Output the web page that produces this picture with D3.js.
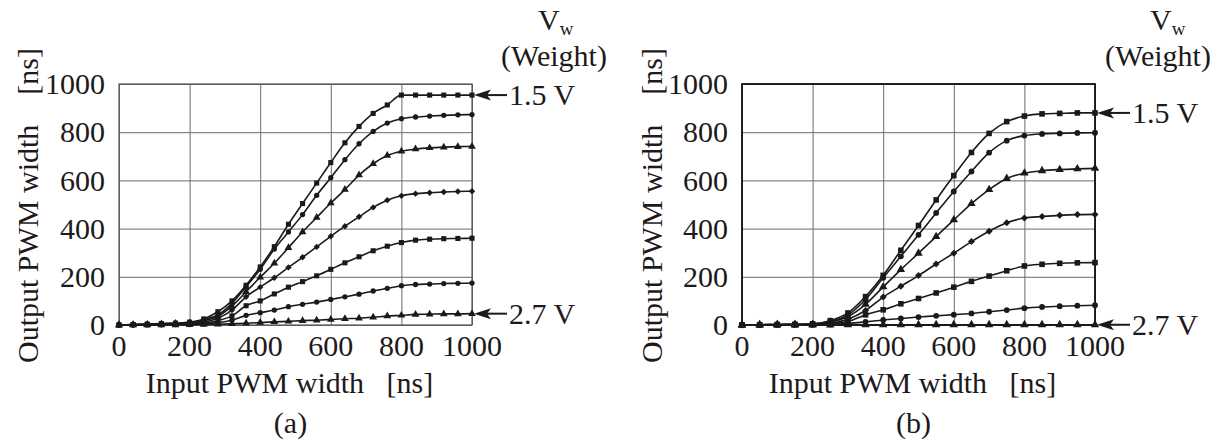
<!DOCTYPE html>
<html>
<head>
<meta charset="utf-8">
<script src="https://cdn.jsdelivr.net/npm/d3@7"></script>
<style>
  html, body { margin: 0; padding: 0; background: #fff; }
  svg { display: block; }
  text { font-family: "Liberation Serif", Tinos, "Times New Roman", Times, serif; fill: #1e1a1b; white-space: pre; }
</style>
</head>
<body>
<svg id="chart" width="1224" height="448"></svg>
<script>
// input PWM width [ns] for each panel
const inputA = [0, 40, 80, 120, 160, 200, 240, 280, 320, 360, 400, 440, 480, 520, 560, 600, 640, 680, 720, 760, 800, 840, 880, 920, 960, 1000];
const inputB = [0, 50, 100, 150, 200, 250, 300, 350, 400, 450, 500, 550, 600, 650, 700, 750, 800, 850, 900, 950, 1000];

// weight voltages (top curve to bottom curve)
const weights = ['1.5 V', '1.7 V', '1.9 V', '2.1 V', '2.3 V', '2.5 V', '2.7 V'];
const markers = ['square', 'circle', 'triangle', 'diamond', 'square', 'circle', 'triangle'];

// output PWM width [ns], panel (a)
const a15 = [0, 2, 4, 6, 8, 12, 25, 55, 100, 165, 241, 325, 418, 504, 589, 674, 756, 824, 878, 913, 954, 954, 954, 954, 954, 954];
const a17 = [0, 2, 3, 5, 7, 10, 22, 42, 90, 159, 231, 315, 386, 458, 538, 611, 686, 752, 803, 838, 856, 863, 867, 870, 872, 873];
const a19 = [0, 1, 2, 4, 6, 8, 18, 36, 78, 138, 198, 256, 321, 386, 446, 506, 562, 622, 669, 703, 721, 730, 735, 738, 740, 741];
const a21 = [0, 1, 2, 3, 4, 6, 12, 28, 62, 117, 157, 196, 239, 281, 324, 368, 410, 449, 488, 518, 536, 545, 549, 552, 554, 555];
const a23 = [0, 1, 1, 2, 3, 4, 8, 18, 38, 80, 100, 129, 157, 180, 204, 231, 258, 283, 308, 327, 342, 352, 356, 358, 359, 360];
const a25 = [0, 0, 1, 1, 2, 2, 5, 10, 20, 40, 51, 62, 76, 86, 95, 106, 117, 128, 141, 152, 163, 168, 170, 172, 173, 174];
const a27 = [0, 0, 0, 0, 0, 1, 2, 3, 5, 7, 10, 13, 15, 18, 20, 23, 26, 28, 32, 37, 40, 44, 45, 46, 46, 47];

// output PWM width [ns], panel (b)
const b15 = [0, 1, 2, 3, 5, 18, 50, 118, 206, 310, 413, 519, 620, 716, 795, 844, 867, 876, 878, 880, 880];
const b17 = [0, 1, 2, 3, 4, 15, 42, 106, 196, 285, 374, 465, 554, 637, 715, 765, 786, 793, 795, 797, 798];
const b19 = [0, 1, 2, 2, 3, 12, 35, 86, 158, 230, 298, 367, 436, 504, 562, 608, 630, 640, 645, 648, 650];
const b21 = [0, 1, 1, 2, 3, 8, 24, 60, 116, 161, 205, 253, 298, 346, 389, 424, 444, 450, 455, 458, 459];
const b23 = [0, 0, 1, 1, 2, 5, 14, 42, 63, 88, 110, 133, 157, 181, 203, 225, 245, 252, 256, 258, 259];
const b25 = [0, 0, 0, 1, 1, 2, 6, 13, 21, 27, 33, 38, 43, 48, 55, 62, 70, 75, 78, 80, 82];
const b27 = [0, 0, 0, 0, 0, 0, 1, 1, 1, 1, 1, 1, 1, 1, 1, 1, 1, 1, 1, 1, 1];

const ticks = [0, 200, 400, 600, 800, 1000];

const svg = d3.select('#chart');
const FONT = 30;

const panels = [
    {
        tag: '(a)', xs: inputA, series: [a15, a17, a19, a21, a23, a25, a27],
        left: 119, right: 472, frame: '#555', frameW: 1.2, mk: 1,
        titleX: 38, vX: 538, weightX: 554
    },
    {
        tag: '(b)', xs: inputB, series: [b15, b17, b19, b21, b23, b25, b27],
        left: 742, right: 1095, frame: '#111', frameW: 1.8, mk: 1.2,
        titleX: 662, vX: 1150, weightX: 1158
    }
];
const plotTop = 84, plotBottom = 325;

const symbolFor = {
    square: d3.symbolSquare,
    circle: d3.symbolCircle,
    triangle: d3.symbolTriangle,
    diamond: d3.symbolDiamond2
};
const sizeFor = { square: 26, circle: 22, triangle: 26, diamond: 26 };

panels.forEach(function(p) {
    const x = d3.scaleLinear().domain([0, 1000]).range([p.left, p.right]);
    const y = d3.scaleLinear().domain([0, 1000]).range([plotBottom, plotTop]);
    const g = svg.append('g');
    const w = p.right - p.left;
    const cx = (p.left + p.right) / 2;

    // grid
    g.append('g')
        .attr('transform', 'translate(0,' + plotBottom + ')')
        .call(d3.axisBottom(x).tickValues(ticks).tickSize(-(plotBottom - plotTop)).tickFormat(''))
        .call(s => s.select('.domain').remove())
        .call(s => s.selectAll('line').attr('stroke', '#6a6a6a').attr('stroke-width', 1));
    g.append('g')
        .attr('transform', 'translate(' + p.left + ',0)')
        .call(d3.axisLeft(y).tickValues(ticks).tickSize(-w).tickFormat(''))
        .call(s => s.select('.domain').remove())
        .call(s => s.selectAll('line').attr('stroke', '#6a6a6a').attr('stroke-width', 1));

    g.append('rect')
        .attr('x', p.left).attr('y', plotTop)
        .attr('width', w).attr('height', plotBottom - plotTop)
        .attr('fill', 'none').attr('stroke', p.frame).attr('stroke-width', p.frameW);

    // tick labels
    g.selectAll('.ytl').data(ticks).join('text')
        .attr('x', p.left - 14).attr('y', d => y(d)).attr('dy', '0.34em')
        .attr('text-anchor', 'end').attr('font-size', FONT).text(d => d);
    g.selectAll('.xtl').data(ticks).join('text')
        .attr('x', d => x(d)).attr('y', plotBottom + 31)
        .attr('text-anchor', 'middle').attr('font-size', FONT).text(d => d);

    // axis titles
    g.append('text')
        .attr('transform', 'translate(' + p.titleX + ',' + ((plotTop + plotBottom) / 2 + 1) + ') rotate(-90)')
        .attr('text-anchor', 'middle').attr('font-size', FONT)
        .text('Output PWM width    [ns]');
    g.append('text')
        .attr('x', cx - 6).attr('y', plotBottom + 68)
        .attr('text-anchor', 'middle').attr('font-size', FONT)
        .text('Input PWM width   [ns]');
    g.append('text')
        .attr('x', cx - 5).attr('y', plotBottom + 108)
        .attr('text-anchor', 'middle').attr('font-size', FONT)
        .text(p.tag);

    // curves
    const line = d3.line()
        .x((d, i) => x(p.xs[i]))
        .y(d => y(d))
        .curve(d3.curveMonotoneX);

    p.series.forEach(function(vals, k) {
        g.append('path')
            .attr('d', line(vals))
            .attr('fill', 'none').attr('stroke', '#1a1a1a').attr('stroke-width', 1.6);
        const m = markers[k];
        const sym = d3.symbol().type(symbolFor[m]).size(sizeFor[m] * p.mk);
        g.append('g').selectAll('path').data(vals).join('path')
            .attr('transform', (d, i) => 'translate(' + x(p.xs[i]) + ',' + y(d) + ')')
            .attr('d', sym)
            .attr('fill', '#1a1a1a');
    });

    // arrows for first and last weight
    [0, weights.length - 1].forEach(function(k) {
        const vals = p.series[k];
        const yy = y(vals[vals.length - 1]);
        const tip = p.right + 2;
        g.append('line')
            .attr('x1', tip + 10).attr('x2', tip + 33)
            .attr('y1', yy).attr('y2', yy)
            .attr('stroke', '#1a1a1a').attr('stroke-width', 2);
        g.append('path')
            .attr('d', 'M' + tip + ',' + yy + 'L' + (tip + 17) + ',' + (yy - 5.5) + 'L' + (tip + 13) + ',' + yy + 'L' + (tip + 17) + ',' + (yy + 5.5) + 'Z')
            .attr('fill', '#1a1a1a');
        g.append('text')
            .attr('x', tip + 35).attr('y', yy).attr('dy', '0.34em')
            .attr('font-size', FONT).text(weights[k]);
    });

    // Vw (Weight) label
    const vt = g.append('text').attr('x', p.vX).attr('y', 30).attr('font-size', FONT);
    vt.append('tspan').text('V');
    vt.append('tspan').attr('dy', 5).attr('font-size', 19).text('w');
    g.append('text')
        .attr('x', p.weightX).attr('y', 66)
        .attr('text-anchor', 'middle').attr('font-size', FONT)
        .text('(Weight)');
});
</script>
</body>
</html>
